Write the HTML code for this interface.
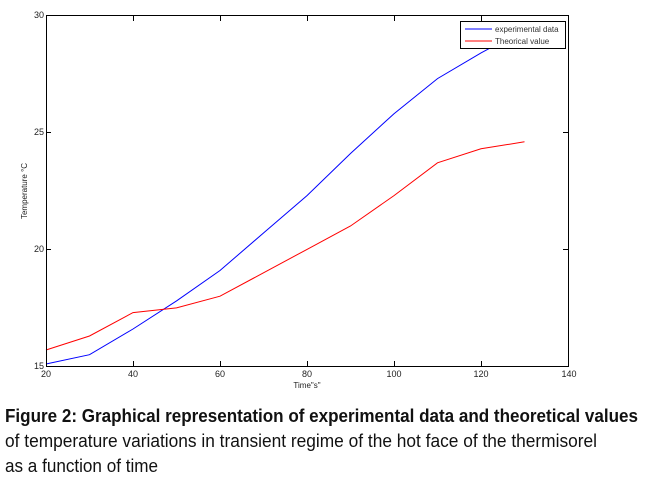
<!DOCTYPE html>
<html><head><meta charset="utf-8"><style>
html,body{margin:0;padding:0;background:#fff;}
svg{display:block;font-family:"Liberation Sans",sans-serif;}
</style></head><body>
<svg width="645" height="480" viewBox="0 0 645 480">
<rect x="0" y="0" width="645" height="480" fill="#fff"/>
<g fill="none" stroke-width="1">
<polyline stroke="#0000ff" points="46,364 89.5,354.7 133,329 176.5,300.9 220,270.5 263.5,233 307,195.6 350.5,153.5 394,113.7 437.5,78.6 481,52.9 502.8,41.2 524.5,33"/>
<polyline stroke="#ff0000" points="46,350 89.5,336 133,312.6 176.5,307.9 220,296.2 263.5,272.8 307,249.4 350.5,226 394,195.6 437.5,162.8 481,148.8 524.5,141.8"/>
</g>
<rect x="46.5" y="15.5" width="522" height="351" fill="none" stroke="#000"/>
<g stroke="#000">
<line x1="133.5" y1="366" x2="133.5" y2="361"/><line x1="220.5" y1="366" x2="220.5" y2="361"/>
<line x1="307.5" y1="366" x2="307.5" y2="361"/><line x1="394.5" y1="366" x2="394.5" y2="361"/>
<line x1="481.5" y1="366" x2="481.5" y2="361"/>
<line x1="133.5" y1="16" x2="133.5" y2="21"/><line x1="220.5" y1="16" x2="220.5" y2="21"/>
<line x1="307.5" y1="16" x2="307.5" y2="21"/><line x1="394.5" y1="16" x2="394.5" y2="21"/>
<line x1="481.5" y1="16" x2="481.5" y2="21"/>
<line x1="46" y1="132.5" x2="51" y2="132.5"/><line x1="46" y1="249.5" x2="51" y2="249.5"/>
<line x1="568" y1="132.5" x2="563" y2="132.5"/><line x1="568" y1="249.5" x2="563" y2="249.5"/>
</g>
<g font-size="9" fill="#222">
<text x="46" y="377" text-anchor="middle">20</text><text x="133" y="377" text-anchor="middle">40</text>
<text x="220" y="377" text-anchor="middle">60</text><text x="307" y="377" text-anchor="middle">80</text>
<text x="394" y="377" text-anchor="middle">100</text><text x="481" y="377" text-anchor="middle">120</text>
<text x="569" y="377" text-anchor="middle">140</text>
<text x="44" y="369" text-anchor="end">15</text><text x="44" y="252" text-anchor="end">20</text>
<text x="44" y="135" text-anchor="end">25</text><text x="44" y="18" text-anchor="end">30</text>
<text x="307" y="388" text-anchor="middle" font-size="8">Time"s"</text>
<text transform="translate(27,191) rotate(-90)" text-anchor="middle" font-size="8">Temperature °C</text>
</g>
<rect x="460.5" y="21.5" width="105" height="27" fill="#fff" stroke="#000"/>
<line x1="465" y1="29" x2="492" y2="29" stroke="#0000ff"/>
<line x1="465" y1="41" x2="492" y2="41" stroke="#ff0000"/>
<g font-size="8" fill="#333"><text x="495" y="32">experimental data</text><text x="495" y="44">Theorical value</text></g>
<g fill="#111" font-size="18">
<text x="5" y="422" textLength="633" lengthAdjust="spacingAndGlyphs"><tspan font-weight="bold">Figure 2:</tspan> <tspan font-weight="bold">Graphical representation of experimental data and theoretical values</tspan></text>
<text x="5" y="447" textLength="592" lengthAdjust="spacingAndGlyphs">of temperature variations in transient regime of the hot face of the thermisorel</text>
<text x="5" y="472" textLength="153" lengthAdjust="spacingAndGlyphs">as a function of time</text>
</g>
</svg>
</body></html>
